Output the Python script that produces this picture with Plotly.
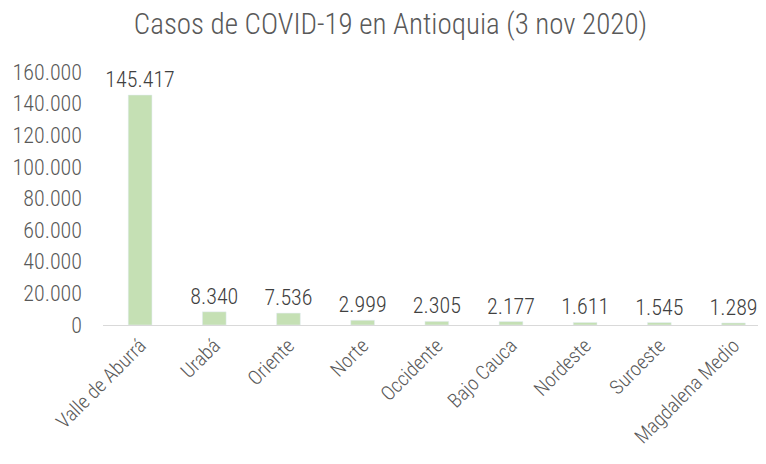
import plotly.graph_objects as go

regiones = ["Valle de Aburrá", "Urabá", "Oriente", "Norte", "Occidente",
            "Bajo Cauca", "Nordeste", "Suroeste", "Magdalena Medio"]
casos = [145417, 8340, 7536, 2999, 2305, 2177, 1611, 1545, 1289]
etiquetas = ["145.417", "8.340", "7.536", "2.999", "2.305", "2.177", "1.611", "1.545", "1.289"]
y_ticks = [0, 20000, 40000, 60000, 80000, 100000, 120000, 140000, 160000]
y_labels = ["0", "20.000", "40.000", "60.000", "80.000", "100.000", "120.000", "140.000", "160.000"]

FONT = "Liberation Sans Narrow, Arial Narrow, Roboto Condensed, Liberation Sans, sans-serif"

fig = go.Figure()
fig.add_trace(go.Bar(
    x=regiones,
    y=casos,
    text=etiquetas,
    textposition="outside",
    constraintext="none",
    textfont=dict(family=FONT, size=22, color="#404040", weight=300),
    marker=dict(color="#C5E0B4"),
    width=0.32,
    cliponaxis=False,
))

# the page body has an 8px margin on every side, so the figure is 16px smaller
fig.update_layout(
    title=dict(text="Casos de COVID-19 en Antioquia (3 nov 2020)", x=0.51, xanchor="center",
               y=0.965, yanchor="middle", font=dict(family=FONT, size=29, color="#595959", weight=300)),
    width=750,
    height=448,
    margin=dict(l=95, r=0, t=64, b=131),
    plot_bgcolor="white",
    paper_bgcolor="white",
    showlegend=False,
    font=dict(family=FONT, color="#595959"),
    xaxis=dict(
        range=[-0.5, 8.33],
        tickangle=-45,
        tickfont=dict(family=FONT, size=20, color="#595959", weight=300),
        showline=True,
        linecolor="#D9D9D9",
        linewidth=1,
        ticks="",
        showgrid=False,
        automargin=False,
    ),
    yaxis=dict(
        range=[0, 160000],
        tickvals=y_ticks,
        ticktext=y_labels,
        tickfont=dict(family=FONT, size=22, color="#595959", weight=300),
        showgrid=False,
        zeroline=False,
        ticks="",
        ticklabelstandoff=20,
        automargin=False,
    ),
)

fig.write_html("out.html")
